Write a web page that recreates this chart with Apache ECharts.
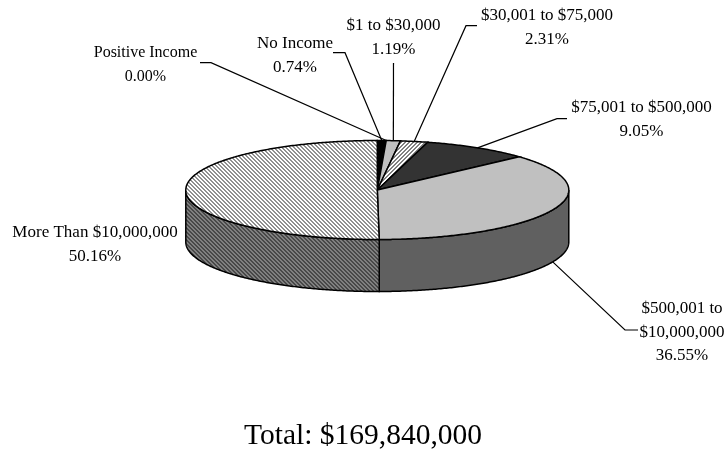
<!DOCTYPE html>
<html><head><meta charset="utf-8">
<style>html,body{margin:0;padding:0;background:#fff}#c{width:726px;height:450px}</style>
<script src="https://cdn.jsdelivr.net/npm/echarts@6/dist/echarts.min.js"></script>
</head><body><div id="c"></div>
<script>
const categories = ['Positive Income','No Income','$1 to $30,000','$30,001 to $75,000','$75,001 to $500,000','$500,001 to\n$10,000,000','More Than $10,000,000'];
const shares = [0.00,0.74,1.19,2.31,9.05,36.55,50.16];
const totalLabel = 'Total: $169,840,000';

// layout
const CX=377.3, CY=190, RX=191.5, RY=49.5, DEPTH=52, FONT='"Liberation Serif","Times New Roman",serif';
const labelPos=[[145.5,53],[295,44],[393.5,26],[547,16],[641.5,108],[682,309],[95,233]];
const labelSize=[16,17,17,17,17,17,17];
const anchorNudge=[[9,0],[0,0],[0,0],[0,0],[0,0],[0,0],[0,0]];
const elbows=[[[200,62.7],[211,62.7]],[[333,52.7],[345,52.7]],[[393.5,63]],[[477,25.7],[466,25.7]],[[567,118.7],[557,118.7]],[[638,330],[625,330]],null];

function tile(a,b,dir,per){
  const c=document.createElement('canvas');c.width=c.height=per;const g=c.getContext('2d');
  for(let y=0;y<per;y++)for(let x=0;x<per;x++){
    const k=((dir>0?x-y:x+y)%per+per)%per;
    g.fillStyle=k<per/2?a:b;g.fillRect(x,y,1,1);
  }
  return {image:c,repeat:'repeat'};
}
const topFill=['#000','#000','#c0c0c0',tile('#ffffff','#808080',-1,4),'#333333','#c0c0c0',tile('#ffffff','#909090',1,4)];
const sideFill=['#000','#000','#606060','#606060','#202020','#606060',tile('#808080','#484848',1,4)];

const total=shares.reduce((a,b)=>a+b,0);
let acc=0;const ranges=shares.map(v=>{const r=[acc/total*2*Math.PI,(acc+v)/total*2*Math.PI];acc+=v;return r;});
const pt=(t,dy)=>[CX+RX*Math.sin(t),CY-RY*Math.cos(t)+(dy||0)];
function arc(a,b,dy){const n=Math.max(2,Math.ceil((b-a)/0.01));const o=[];for(let i=0;i<=n;i++)o.push(pt(a+(b-a)*i/n,dy));return o;}

function sideItem(p,api){
  const i=p.dataIndex,[a0,b0]=ranges[i];
  const a=Math.max(a0,Math.PI/2),b=Math.min(b0,Math.PI*1.5);
  if(b<=a)return {type:'group',children:[]};
  const pts=arc(a,b,0).concat(arc(a,b,DEPTH).reverse());
  return {type:'polygon',shape:{points:pts},style:{fill:sideFill[i],stroke:'#000',lineWidth:1.5}};
}
function topItem(p,api){
  const i=p.dataIndex,[a,b]=ranges[i];
  if(b<=a)return {type:'group',children:[]};
  const pts=[[CX,CY]].concat(arc(a,b,0));
  return {type:'polygon',shape:{points:pts},style:{fill:topFill[i],stroke:'#000',lineWidth:1.5}};
}
function anchor(i){
  const [a,b]=ranges[i],m=(a+b)/2;
  const front=Math.cos(m)<0;
  const q=pt(m,front?DEPTH:0);
  return [q[0]+anchorNudge[i][0],q[1]+anchorNudge[i][1]];
}
function labelItem(p,api){
  const i=p.dataIndex,kids=[];
  const txt=categories[i]+'\n'+shares[i].toFixed(2)+'%';
  kids.push({type:'text',style:{text:txt,x:labelPos[i][0],y:labelPos[i][1],align:'center',verticalAlign:'middle',
    font:labelSize[i]+'px '+FONT,fill:'#000',lineHeight:23.5},
    y:(txt.split('\n').length-1)*11.75});
  if(elbows[i]){
    kids.push({type:'polyline',shape:{points:elbows[i].concat([anchor(i)])},style:{fill:null,stroke:'#000',lineWidth:1.2}});
  }
  return {type:'group',children:kids};
}
const data=shares.map((v,i)=>({name:categories[i],value:v}));
const chart=echarts.init(document.getElementById('c'),null,{renderer:'canvas'});
chart.setOption({
  animation:false,backgroundColor:'#fff',
  title:{text:totalLabel,left:358,top:431,textAlign:'center',textVerticalAlign:'middle',
    textStyle:{fontFamily:FONT,fontSize:29.5,fontWeight:'normal',color:'#000'}},
  series:[
    {type:'custom',coordinateSystem:'none',renderItem:sideItem,data,z:1,silent:true},
    {type:'custom',coordinateSystem:'none',renderItem:topItem,data,z:2,silent:true},
    {type:'custom',coordinateSystem:'none',renderItem:labelItem,data,z:3,silent:true}
  ]
});
</script></body></html>
